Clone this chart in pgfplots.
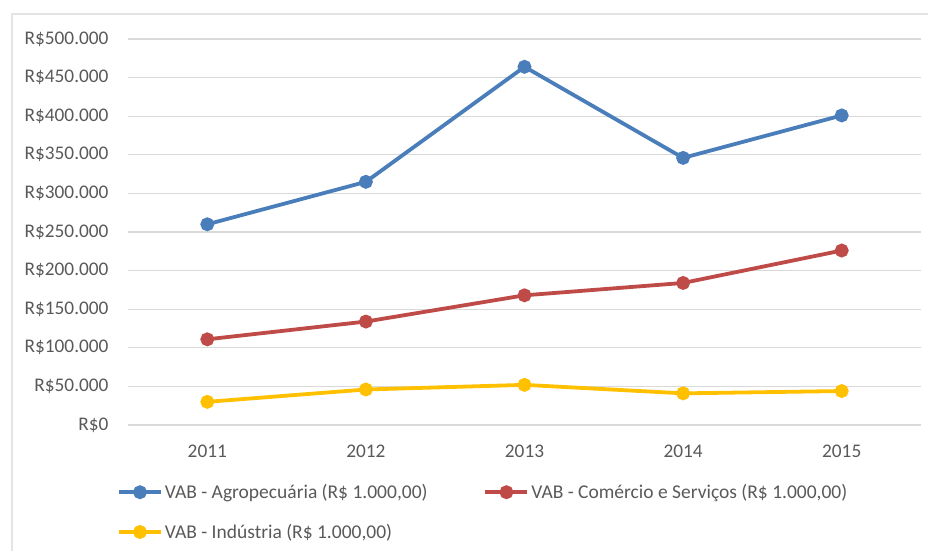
\documentclass[border=0pt]{standalone}
\usepackage{fontspec}
\setmainfont{Carlito}
\usepackage{pgfplots}
\pgfplotsset{compat=1.18}
\definecolor{cblue}{HTML}{4A7EBB}
\definecolor{cred}{HTML}{BE4B48}
\definecolor{cyel}{HTML}{FFC000}
\definecolor{ctxt}{HTML}{595959}
\definecolor{cgrid}{HTML}{D9D9D9}
\begin{document}
\begin{tikzpicture}
\useasboundingbox (-128pt,-125pt) rectangle (800pt,425pt);
\draw[cgrid!70, line width=1.2pt] (-116pt,-130pt) -- (-116pt,411pt) -- (812pt,411pt);
\begin{axis}[
  at={(0pt,0pt)}, anchor=south west,
  scale only axis, width=793pt, height=386pt,
  xmin=-0.5, xmax=4.5, ymin=0, ymax=500000,
  axis line style={draw=none},
  major tick length=0pt,
  xtick={0,1,2,3,4}, xticklabels={2011,2012,2013,2014,2015},
  ytick={0,50000,100000,150000,200000,250000,300000,350000,400000,450000,500000},
  yticklabels={R\$0,R\$50.000,R\$100.000,R\$150.000,R\$200.000,R\$250.000,R\$300.000,R\$350.000,R\$400.000,R\$450.000,R\$500.000},
  scaled y ticks=false,
  ymajorgrids, grid style={cgrid, line width=1.2pt},
  tick label style={font=\fontsize{19.3}{23}\selectfont, text=ctxt},
  yticklabel style={xshift=-16pt},
  xticklabel style={yshift=-16pt},
  legend columns=2,
  legend cell align=left,
  legend style={draw=none, fill=none, inner sep=0pt, at={(-0.014,-0.148)}, anchor=north west,
    font=\fontsize{19.5}{23}\selectfont, text=ctxt,
    /tikz/every even column/.append style={column sep=54pt},
    row sep=20pt},
  legend image code/.code={\draw[mark repeat=2,mark phase=2,#1] plot coordinates {(0pt,0pt) (21pt,0pt) (42pt,0pt)};},
  every axis plot/.append style={line width=3.8pt, mark=*, mark size=5pt, mark options={solid}},
]
\addplot[cblue] coordinates {(0,260000) (1,315000) (2,464000) (3,346000) (4,401000)};
\addlegendentry{VAB - Agropecuária (R\$ 1.000,00)}
\addplot[cred] coordinates {(0,111000) (1,134000) (2,168000) (3,184000) (4,226000)};
\addlegendentry{VAB - Comércio e Serviços (R\$ 1.000,00)}
\addplot[cyel] coordinates {(0,30000) (1,46000) (2,52000) (3,41000) (4,44000)};
\addlegendentry{VAB - Indústria (R\$ 1.000,00)}
\end{axis}
\end{tikzpicture}
\end{document}
